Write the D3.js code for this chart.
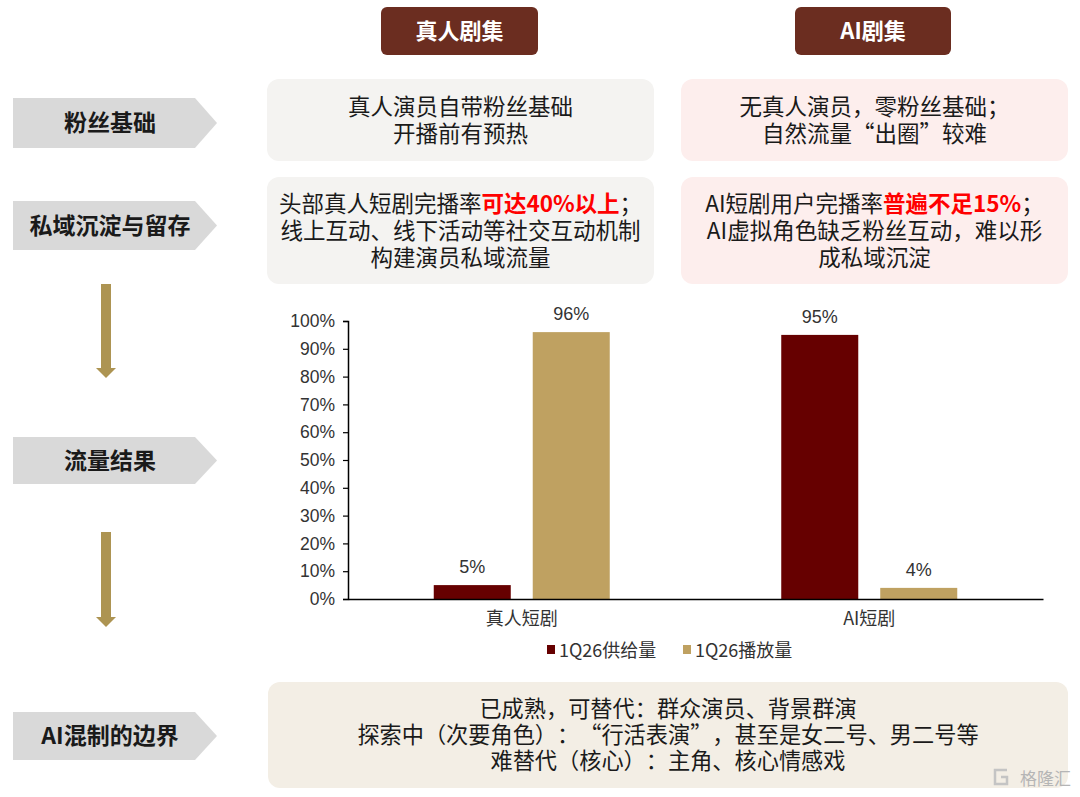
<!DOCTYPE html>
<html>
<head>
<meta charset="utf-8">
<script src="https://cdn.jsdelivr.net/npm/d3@7"></script>
<style>
  body { margin: 0; background: #fff; }
  svg { display: block; }
  svg text { text-spacing-trim: space-all; }
</style>
</head>
<body>
<div id="chart"></div>
<script>
// data
const categories = ["真人短剧", "AI短剧"];
const seriesNames = ["1Q26供给量", "1Q26播放量"];
const supplyShare = [5, 95];
const playShare = [96, 4];
const yTicks = [0, 10, 20, 30, 40, 50, 60, 70, 80, 90, 100];

const headers = ["真人剧集", "AI剧集"];
const rowLabels = ["粉丝基础", "私域沉淀与留存", "流量结果", "AI混制的边界"];
// each line is a list of [text, highlighted]
const leftTexts = [
  [[["真人演员自带粉丝基础", false]], [["开播前有预热", false]]],
  [[["头部真人短剧完播率", false], ["可达40%以上", true], ["；", false]],
   [["线上互动、线下活动等社交互动机制", false]],
   [["构建演员私域流量", false]]]
];
const rightTexts = [
  [[["无真人演员，零粉丝基础；", false]], [["自然流量“出圈”较难", false]]],
  [[["AI短剧用户完播率", false], ["普遍不足15%", true], ["；", false]],
   [["AI虚拟角色缺乏粉丝互动，难以形", false]],
   [["成私域沉淀", false]]]
];
const boundaryLines = [
  "已成熟，可替代：群众演员、背景群演",
  "探索中（次要角色）：“行活表演”，甚至是女二号、男二号等",
  "难替代（核心）：主角、核心情感戏"
];

const width = 1080;
const height = 797;
const cjk = "'Noto Sans CJK SC', 'Noto Sans', sans-serif";
const latin = "'Liberation Sans', Arial, sans-serif";
const brown = "#6b2d20";
const gold = "#ad9452";
const maroon = "#660000";
const tan = "#bfa161";

const svg = d3.select("#chart")
  .append("svg")
  .attr("width", width)
  .attr("height", height);

// column headers
const headerBoxes = [{ x: 381, w: 157 }, { x: 795, w: 156 }];
headers.forEach((h, i) => {
  const b = headerBoxes[i];
  svg.append("rect")
    .attr("x", b.x).attr("y", 7)
    .attr("width", b.w).attr("height", 48)
    .attr("rx", 6)
    .attr("fill", brown);
  svg.append("text")
    .attr("x", b.x + b.w / 2).attr("y", 39)
    .attr("text-anchor", "middle")
    .attr("font-family", cjk)
    .attr("font-weight", "bold")
    .attr("font-size", 22)
    .attr("fill", "#fff")
    .text(h);
});

// left row labels (pentagon arrows)
const labelRows = [{ y: 98, h: 50 }, { y: 201, h: 49 }, { y: 437, h: 47 }, { y: 712, h: 48 }];
rowLabels.forEach((t, i) => {
  const r = labelRows[i];
  const x0 = 13, x1 = 195, x2 = 217;
  svg.append("path")
    .attr("d", `M${x0},${r.y}H${x1}L${x2},${r.y + r.h / 2}L${x1},${r.y + r.h}H${x0}Z`)
    .attr("fill", "#d9d9d9");
  svg.append("text")
    .attr("x", 110).attr("y", r.y + r.h / 2 + 8)
    .attr("text-anchor", "middle")
    .attr("font-family", cjk)
    .attr("font-weight", "bold")
    .attr("font-size", 23)
    .attr("fill", "#1a1a1a")
    .text(t);
});

// down arrows
[[284, 378], [532, 627]].forEach(([y1, y2]) => {
  svg.append("rect")
    .attr("x", 101).attr("y", y1)
    .attr("width", 10).attr("height", y2 - y1 - 9)
    .attr("fill", gold);
  svg.append("path")
    .attr("d", `M96,${y2 - 10}H116L106,${y2}Z`)
    .attr("fill", gold);
});

// text boxes: one text block per box, one tspan row per line
function textBox(x, y, w, h, fill, lines, lineH, size) {
  svg.append("rect")
    .attr("x", x).attr("y", y)
    .attr("width", w).attr("height", h)
    .attr("rx", 12)
    .attr("fill", fill);
  const top = y + h / 2 - (lines.length - 1) * lineH / 2 + size * 0.36;
  const t = svg.append("text")
    .attr("x", x + w / 2).attr("y", top)
    .attr("text-anchor", "middle")
    .attr("font-family", cjk)
    .attr("font-size", size)
    .attr("fill", "#1a1a1a");
  lines.forEach((parts, i) => {
    const row = t.append("tspan")
      .attr("x", x + w / 2)
      .attr("y", top + i * lineH);
    parts.forEach(([s, hl]) => {
      row.append("tspan")
        .attr("fill", hl ? "#ff0000" : "#1a1a1a")
        .attr("font-weight", hl ? "bold" : "normal")
        .text(s);
    });
  });
}

const rowBoxes = [{ y: 79, h: 82 }, { y: 177, h: 107 }];
rowBoxes.forEach((r, i) => {
  textBox(267, r.y, 387, r.h, "#f4f3f1", leftTexts[i], 27, 22.5);
  textBox(681, r.y, 387, r.h, "#fdeeed", rightTexts[i], 27, 22.5);
});

textBox(268, 682, 800, 106, "#f3eee5",
  boundaryLines.map(s => [[s, false]]), 26, 22.2);

// watermark
svg.append("path")
  .attr("d", "M1007,770H995V784H1007V777H1001")
  .attr("fill", "none")
  .attr("stroke", "#c4c4c4")
  .attr("stroke-width", 2.5);
svg.append("text")
  .attr("x", 1071).attr("y", 785)
  .attr("text-anchor", "end")
  .attr("font-family", cjk)
  .attr("font-size", 17)
  .attr("fill", "#b5b5b5")
  .text("格隆汇");

// bar chart
const chart = { left: 348, right: 1043, top: 321, bottom: 599 };

const x0 = d3.scaleBand()
  .domain(categories)
  .range([chart.left, chart.right]);

const x1 = d3.scaleBand()
  .domain(seriesNames)
  .range([-88, 88])
  .paddingInner(0.222);

const y = d3.scaleLinear()
  .domain([0, 100])
  .range([chart.bottom, chart.top]);

const color = d3.scaleOrdinal().domain(seriesNames).range([maroon, tan]);

const barData = categories.flatMap((c, i) => [
  { cat: c, series: seriesNames[0], value: supplyShare[i] },
  { cat: c, series: seriesNames[1], value: playShare[i] }
]);

const g = svg.append("g");

g.selectAll(".bar")
  .data(barData)
  .join("rect")
  .attr("class", "bar")
  .attr("x", d => x0(d.cat) + x0.bandwidth() / 2 + x1(d.series))
  .attr("y", d => y(d.value))
  .attr("width", x1.bandwidth())
  .attr("height", d => y(0) - y(d.value))
  .attr("fill", d => color(d.series));

g.selectAll(".bar-label")
  .data(barData)
  .join("text")
  .attr("class", "bar-label")
  .attr("x", d => x0(d.cat) + x0.bandwidth() / 2 + x1(d.series) + x1.bandwidth() / 2)
  .attr("y", d => y(d.value) - 12)
  .attr("text-anchor", "middle")
  .attr("font-family", latin)
  .attr("font-size", 18)
  .attr("fill", "#333")
  .text(d => d.value + "%");

// y axis
const yAxis = g.append("g")
  .attr("transform", `translate(${chart.left},0)`)
  .call(d3.axisLeft(y).tickValues(yTicks).tickFormat(d => d + "%").tickSize(5).tickPadding(8));
yAxis.select(".domain").attr("stroke", "#000").attr("stroke-width", 1.5);
yAxis.selectAll(".tick line").attr("stroke", "#000").attr("stroke-width", 1.2);
yAxis.selectAll(".tick text")
  .attr("font-family", latin)
  .attr("font-size", 17.5)
  .attr("fill", "#333");

// x axis
const xAxis = g.append("g")
  .attr("transform", `translate(0,${chart.bottom})`)
  .call(d3.axisBottom(x0).tickSize(0).tickPadding(13));
xAxis.select(".domain").attr("stroke", "#000").attr("stroke-width", 1.5);
xAxis.selectAll(".tick text")
  .attr("font-family", cjk)
  .attr("font-size", 18)
  .attr("fill", "#333");

// legend
const legendPos = [547, 683];
seriesNames.forEach((s, i) => {
  const lg = svg.append("g").attr("transform", `translate(${legendPos[i]},650)`);
  lg.append("rect")
    .attr("x", 0).attr("y", -5)
    .attr("width", 8).attr("height", 9)
    .attr("fill", color(s));
  lg.append("text")
    .attr("x", 12).attr("y", 6.5)
    .attr("font-family", cjk)
    .attr("font-size", 18)
    .attr("fill", "#333")
    .text(s);
});
</script>
</body>
</html>
